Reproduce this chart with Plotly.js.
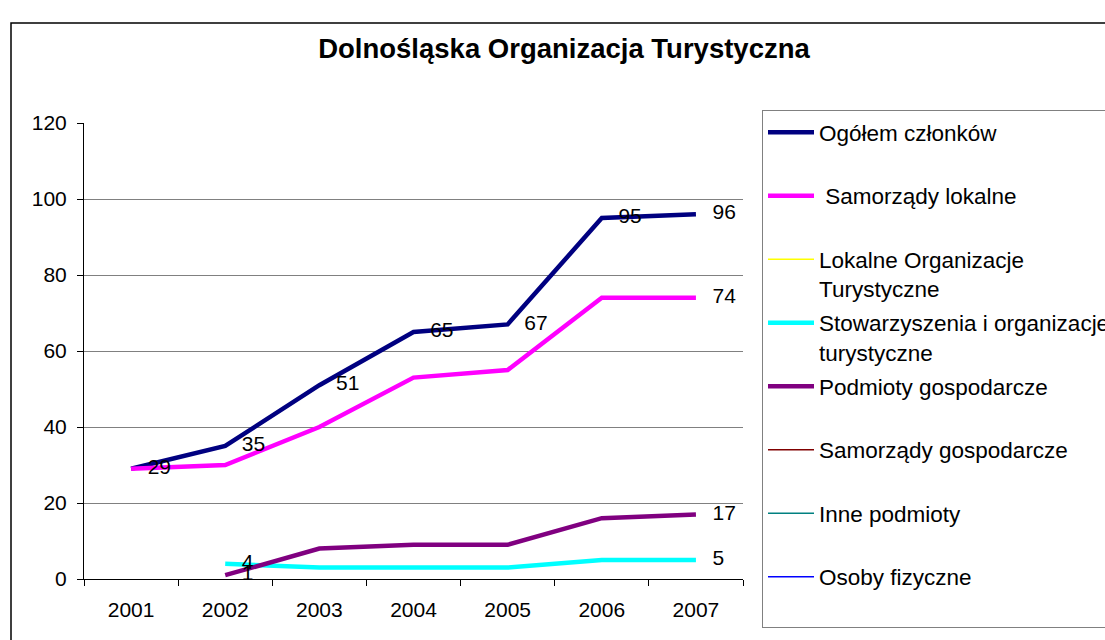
<!DOCTYPE html>
<html>
<head>
<meta charset="utf-8">
<script src="https://cdn.plot.ly/plotly-3.0.1.min.js"></script>
<style>html,body{margin:0;padding:0;background:#fff;}#chart{width:1105px;height:640px;}</style>
</head>
<body>
<div id="chart"></div>
<script>
const years = ['2001', '2002', '2003', '2004', '2005', '2006', '2007'];
const ogolem = [29, 35, 51, 65, 67, 95, 96];
const samorzadyLokalne = [29, 30, 40, 53, 55, 74, 74];
const lokalneOrganizacje = [null, null, null, null, null, null, null];
const stowarzyszenia = [null, 4, 3, 3, 3, 5, 5];
const podmiotyGosp = [null, 1, 8, 9, 9, 16, 17];
const samorzadyGosp = [null, null, null, null, null, null, null];
const innePodmioty = [null, null, null, null, null, null, null];
const osobyFizyczne = [null, null, null, null, null, null, null];

const ogolemLabels = ['29', '35', '51', '65', '67', '95', '96'];
const samorzadyLokalneLabels = ['', '', '', '', '', '', '74'];
const stowarzyszeniaLabels = ['', '4', '', '', '', '', '5'];
const podmiotyGospLabels = ['', '1', '', '', '', '', '17'];

const seriesNames = [
  'Ogółem członków',
  '&nbsp;Samorządy lokalne',
  'Lokalne Organizacje<br>Turystyczne',
  'Stowarzyszenia i organizacje<br>turystyczne',
  'Podmioty gospodarcze',
  'Samorządy gospodarcze',
  'Inne podmioty',
  'Osoby fizyczne'
];

const FONT = 'Liberation Sans, Arial, sans-serif';

function lineTrace(name, y, color, width, idx) {
  const nm = name.indexOf('<br>') >= 0 ? name : name + '<br>&nbsp;';
  return {
    type: 'scatter',
    x: years,
    y: y,
    name: nm,
    legendgroup: 'g' + idx,
    mode: 'lines',
    line: {color: color, width: width},
    connectgaps: false,
    hoverinfo: 'x+y',
    showlegend: true
  };
}

function labelTrace(y, labels, idx) {
  return {
    type: 'scatter',
    x: years,
    y: y,
    legendgroup: 'g' + idx,
    mode: 'markers+text',
    marker: {size: 25, opacity: 0, color: '#000'},
    text: labels,
    textposition: 'middle right',
    textfont: {family: FONT, size: 21, color: '#000'},
    cliponaxis: false,
    hoverinfo: 'skip',
    showlegend: false
  };
}

const data = [
  lineTrace(seriesNames[0], ogolem, '#000080', 4.5, 0),
  lineTrace(seriesNames[1], samorzadyLokalne, '#FF00FF', 4.5, 1),
  lineTrace(seriesNames[2], lokalneOrganizacje, '#FFFF00', 1.5, 2),
  lineTrace(seriesNames[3], stowarzyszenia, '#00FFFF', 4.5, 3),
  lineTrace(seriesNames[4], podmiotyGosp, '#800080', 4.5, 4),
  lineTrace(seriesNames[5], samorzadyGosp, '#800000', 1.5, 5),
  lineTrace(seriesNames[6], innePodmioty, '#008080', 1.5, 6),
  lineTrace(seriesNames[7], osobyFizyczne, '#0000FF', 1.5, 7),
  labelTrace(ogolem, ogolemLabels, 0),
  labelTrace(samorzadyLokalne, samorzadyLokalneLabels, 1),
  labelTrace(stowarzyszenia, stowarzyszeniaLabels, 3),
  labelTrace(podmiotyGosp, podmiotyGospLabels, 4)
];

const layout = {
  width: 1105,
  height: 640,
  margin: {l: 84, r: 362, t: 123, b: 61, pad: 0, autoexpand: false},
  paper_bgcolor: '#fff',
  plot_bgcolor: '#fff',
  font: {family: FONT, color: '#000', size: 21},
  title: {
    text: '<b>Dolnośląska Organizacja Turystyczna</b>',
    font: {family: FONT, size: 27.5, color: '#000'},
    xref: 'container', x: 0.5104, xanchor: 'center',
    yref: 'container', y: 1 - 48 / 640, yanchor: 'middle',
    automargin: false
  },
  xaxis: {
    type: 'category',
    range: [-0.5, 6.5],
    tickson: 'boundaries',
    ticks: 'outside',
    ticklen: 6,
    tickcolor: '#000',
    showline: true,
    linecolor: '#000',
    linewidth: 1,
    showgrid: false,
    zeroline: false,
    ticklabelstandoff: 12,
    tickfont: {family: FONT, size: 21, color: '#000'},
    fixedrange: true
  },
  yaxis: {
    range: [0, 120],
    dtick: 20,
    tick0: 0,
    ticks: 'outside',
    ticklen: 6,
    tickcolor: '#000',
    showline: true,
    linecolor: '#000',
    linewidth: 1,
    showgrid: true,
    gridcolor: '#808080',
    gridwidth: 1,
    zeroline: false,
    ticklabelstandoff: 6,
    tickfont: {family: FONT, size: 21, color: '#000'},
    fixedrange: true
  },
  legend: {
    x: (762 - 84) / 659,
    xanchor: 'left',
    y: (579 - 110) / 456,
    yanchor: 'top',
    bgcolor: '#fff',
    bordercolor: '#808080',
    borderwidth: 1,
    font: {family: FONT, size: 22.5, color: '#000'},
    tracegroupgap: 2,
    valign: 'top',
    traceorder: 'grouped',
    itemwidth: 46,
    maxheight: 620
  },
  shapes: [{
    type: 'rect',
    xref: 'paper', yref: 'paper',
    x0: (11 - 84) / 659, x1: (1110 - 84) / 659,
    y0: (579 - 650) / 456, y1: (579 - 23) / 456,
    line: {color: '#000', width: 1.5},
    fillcolor: 'rgba(0,0,0,0)',
    layer: 'below'
  }],
  showlegend: true,
  hovermode: 'closest'
};

Plotly.newPlot('chart', data, layout, {displayModeBar: false});
</script>
</body>
</html>
